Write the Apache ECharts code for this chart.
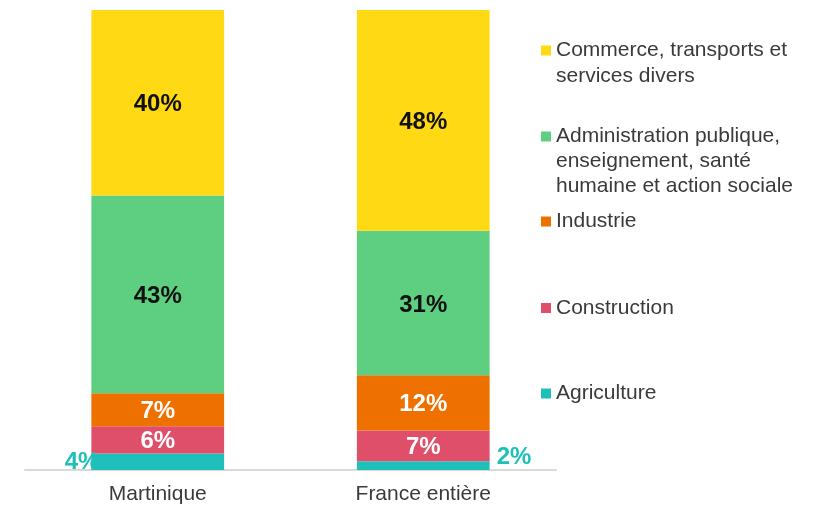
<!DOCTYPE html>
<html>
<head>
<meta charset="utf-8">
<script src="https://cdn.jsdelivr.net/npm/echarts@6/dist/echarts.min.js"></script>
<style>
html,body{margin:0;padding:0;background:#fff;}
#chart{width:815px;height:506px;}
</style>
</head>
<body>
<div id="chart"></div>
<script>
// Data
var categories = ['Martinique', 'France entière'];
var seriesNames = [
  'Agriculture',
  'Construction',
  'Industrie',
  'Administration publique,\nenseignement, santé\nhumaine et action sociale',
  'Commerce, transports et\nservices divers'
];
var agriculture = [3.6, 1.9];
var construction = [5.9, 6.7];
var industrie = [7.2, 12.0];
var administration = [43.0, 31.4];
var commerce = [40.3, 48.0];

var values = [agriculture, construction, industrie, administration, commerce];
var colors = ['#20C0BA', '#E04F69', '#EE7100', '#5ECF81', '#FFDA14'];
var labelColors = ['#20C0BA', '#ffffff', '#ffffff', '#111111', '#111111'];

var FONT = "'Liberation Sans', Arial, sans-serif";

var series = values.map(function (vals, si) {
  return {
    name: seriesNames[si],
    type: 'bar',
    stack: 'total',
    barWidth: '50%',
    itemStyle: { color: colors[si] },
    label: {
      show: true,
      position: 'inside',
      offset: [0, 2],
      fontFamily: FONT,
      fontSize: 24,
      fontWeight: 'bold',
      color: labelColors[si],
      formatter: function (p) { return Math.round(p.value) + '%'; }
    },
    data: vals.map(function (v, ci) {
      if (si === 0) {
        if (ci === 0) {
          return { value: v, label: { position: 'left', distance: -8, offset: [0, 1] } };
        }
        return { value: v, label: { position: 'right', distance: 7, offset: [0, -8] } };
      }
      return v;
    })
  };
});

// legend layout: one legend per item, marker aligned with the first text line
var legendTops = [381, 295.5, 209, 124, 37.5];
var legendLines = [1, 1, 1, 3, 2];
var legendLineHeights = [25, 25, 25, 25, 26];
var legends = seriesNames.map(function (name, i) {
  var n = legendLines[i];
  var L = legendLineHeights[i];
  var H = n === 1 ? 10 : 2 * (5 + (n - 1) * L / 2);
  var icon = n === 1 ? 'rect' : 'path://M0,0H10V10H0Z M0,' + H + 'L0,' + H;
  return {
    data: [name],
    left: 541,
    top: legendTops[i],
    padding: 0,
    itemWidth: 10,
    itemHeight: H,
    icon: icon,
    selectedMode: false,
    textStyle: {
      fontFamily: FONT,
      fontSize: 21,
      lineHeight: L,
      color: '#3a3a3a'
    }
  };
});

var chart = echarts.init(document.getElementById('chart'), null, { renderer: 'canvas' });
chart.setOption({
  animation: false,
  backgroundColor: '#ffffff',
  grid: { left: 25, right: 259, top: 10, bottom: 36, containLabel: false },
  legend: legends,
  xAxis: {
    type: 'category',
    data: categories,
    axisLine: { show: true, lineStyle: { color: '#d9d9d9', width: 2 } },
    axisTick: { show: false },
    axisLabel: { fontFamily: FONT, fontSize: 21, color: '#3a3a3a', margin: 14 }
  },
  yAxis: {
    type: 'value',
    min: 0,
    max: 100,
    show: false,
    splitLine: { show: false }
  },
  series: series
});
</script>
</body>
</html>
